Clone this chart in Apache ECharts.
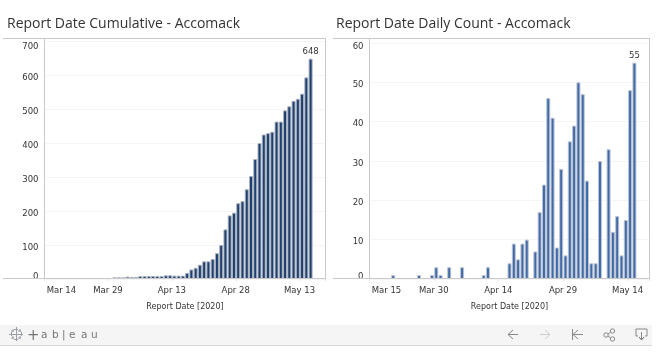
<!DOCTYPE html>
<html><head><meta charset="utf-8">
<style>html,body{margin:0;padding:0;background:#fff}#c{width:662px;height:360px}</style>
<script src="https://cdn.jsdelivr.net/npm/echarts@6/dist/echarts.min.js"></script>
</head><body><div id="c"></div>
<script>
const cumulativeTitle = 'Report Date Cumulative - Accomack';
const dailyTitle = 'Report Date Daily Count - Accomack';
const axisTitle = 'Report Date [2020]';
const logoGlyphs = ['a','b','|','e','a','u'];
// Mar 14 .. May 18 (one per day)
const cumulativeValues = [null,null,null,null,null,null,null,null,null,null,null,null,null,null,null,null,
  5,5,5,7,6,6,9,9,9,9,9,9,11,11,10,10,10,18,28,33,42,52,52,59,76,100,146,187,195,223,229,264,303,353,400,425,429,433,463,463,496,508,524,530,545,593,648,null,null,null];
// Mar 15 .. May 18 (one per day)
const dailyValues = [null,null,null,null,null,1,null,null,null,null,null,1,null,null,1,3,1,null,3,null,null,3,null,null,null,null,1,3,null,null,null,null,
  4,9,5,9,10,null,7,17,24,46,41,8,28,6,35,39,50,47,25,4,4,30,null,33,12,16,6,15,48,55,null,null,null];
const MONTHS = ['Mar','Apr','May'];
function dayLabels(month, day, n){
  const len=[31,30,31], out=[]; let m=month, d=day;
  for(let i=0;i<n;i++){ out.push(MONTHS[m]+' '+d); d++; if(d>len[m]){d=1;m++;} }
  return out;
}
const cumulativeDays = dayLabels(0,14,cumulativeValues.length);
const dailyDays = dayLabels(0,15,dailyValues.length);

const font='"DejaVu Sans"', tickCol='#333', frame='#c9c9c9', faint='#f5f5f5';
function xAxis(i,days){return {type:'category',gridIndex:i,data:days,boundaryGap:true,
  name:axisTitle,nameLocation:'middle',nameGap:24,nameTextStyle:{fontFamily:font,fontSize:8,color:'#333'},
  axisLine:{show:false},axisTick:{show:true,interval:14,length:2,lineStyle:{color:'#e4e4e4'}},
  axisLabel:{interval:14,margin:7,fontFamily:font,fontSize:8.5,color:tickCol,alignMinLabel:'left',padding:[0,5,0,0]},splitLine:{show:false}};}
function yAxis(i,max,step,topPad){return {type:'value',gridIndex:i,min:0,max:max,interval:step,
  axisLine:{show:false},axisTick:{show:false},
  axisLabel:{margin:6,fontFamily:font,fontSize:8.5,color:tickCol,
    formatter:v=>v===0?'{z|0}':(v===max?'{t|'+v+'}':'{n|'+v+'}'),
    rich:{n:{padding:[5,0,0,0]},z:{padding:[0,0,4,0]},t:{padding:[topPad,0,0,0]}}},
  splitLine:{show:true,lineStyle:{color:faint,width:1}}};}
function bars(i,vals,core,halo){const last=vals.reduce((a,v,k)=>v!=null?k:a,0);
  return {type:'bar',xAxisIndex:i,yAxisIndex:i,data:vals,barWidth:4,animation:false,
  itemStyle:{color:core,borderColor:halo,borderWidth:1},
  label:{show:true,position:'top',distance:2,fontFamily:font,fontSize:8.5,color:'#333',
    formatter:p=>p.dataIndex===last?String(p.value):''}};}
const L=(x1,y1,x2,y2,c,w)=>({type:'line',silent:true,z:20,shape:{x1,y1,x2,y2},style:{stroke:c||frame,lineWidth:w||1}});
const P=(pts,c)=>({type:'polyline',silent:true,z:20,shape:{points:pts},style:{stroke:c,lineWidth:1,fill:null}});
const gfx=[
  {type:'rect',silent:true,z:1,shape:{x:0,y:325,width:652,height:20},style:{fill:'#f5f5f5'}},
  L(0,345.5,652,345.5,'#d6d6d6'),
  L(3,38.5,325,38.5),L(3,278.5,325,278.5),L(325.5,38,325.5,279),L(44.5,38,44.5,279),
  L(333,38.5,649,38.5),L(333,278.5,649,278.5),L(649.5,38,649.5,279),L(369.5,38,369.5,279),
  {type:'text',silent:true,z:20,style:{x:27,y:329,text:'+',font:'15px "DejaVu Sans"',fill:'#777'}},
  // navigation icons
  P([[513,330],[508,334.5],[513,339]],'#888'),L(508,334.5,518,334.5,'#888'),
  P([[545,330],[550,334.5],[545,339]],'#ccc'),L(540,334.5,550,334.5,'#ccc'),
  L(572.5,329,572.5,340,'#888'),P([[578,330],[573,334.5],[578,339]],'#888'),L(573,334.5,583,334.5,'#888'),
  {type:'circle',silent:true,z:20,shape:{cx:606,cy:335,r:2.2},style:{stroke:'#888',fill:null}},
  {type:'circle',silent:true,z:20,shape:{cx:612.5,cy:331,r:2.2},style:{stroke:'#888',fill:null}},
  {type:'circle',silent:true,z:20,shape:{cx:612.5,cy:339,r:2.2},style:{stroke:'#888',fill:null}},
  L(608,334,610.5,332,'#888'),L(608,336,610.5,338,'#888'),
  P([[638,336],[636,336],[636,329],[647,329],[647,336],[645,336]],'#888'),L(641.5,332,641.5,339,'#888'),P([[639,337],[641.5,340],[644,337]],'#666')
];
logoGlyphs.forEach((g,k)=>gfx.push({type:'text',silent:true,z:20,style:{x:[41,52,62,69,81,91][k],y:330,text:g,font:'10.5px "DejaVu Sans"',fill:'#777'}}));
// tableau mark
[[16,334,4],[11,334,2],[21,334,2],[16,329,2],[16,339,2],[12.5,330.5,1.5],[19.5,330.5,1.5],[12.5,337.5,1.5],[19.5,337.5,1.5]].forEach(m=>{
  gfx.push(L(m[0]-m[2],m[1]+.5,m[0]+m[2],m[1]+.5,'#9a9fa6'));
  gfx.push(L(m[0]+.5,m[1]-m[2],m[0]+.5,m[1]+m[2],'#9a9fa6'));
});
const chart=echarts.init(document.getElementById('c'),null,{renderer:'canvas'});
chart.setOption({
  animation:false,backgroundColor:'#fff',
  title:[
    {text:cumulativeTitle,left:7,top:17,padding:0,textStyle:{fontFamily:'"Open Sans"',fontSize:14,fontWeight:'normal',color:'#333'}},
    {text:dailyTitle,left:336,top:17,padding:0,textStyle:{fontFamily:'"Open Sans"',fontSize:14,fontWeight:'normal',color:'#333'}}
  ],
  grid:[
    {left:44.5,top:41,width:281,height:238},
    {left:369.5,top:43,width:280,height:236}
  ],
  xAxis:[xAxis(0,cumulativeDays),xAxis(1,dailyDays)],
  yAxis:[yAxis(0,700,100,12),yAxis(1,60,10,8)],
  series:[bars(0,cumulativeValues,'#1f3f6e','#a9b2c0'),bars(1,dailyValues,'#4069a8','#bcc5d3')],
  graphic:gfx
});
</script></body></html>
